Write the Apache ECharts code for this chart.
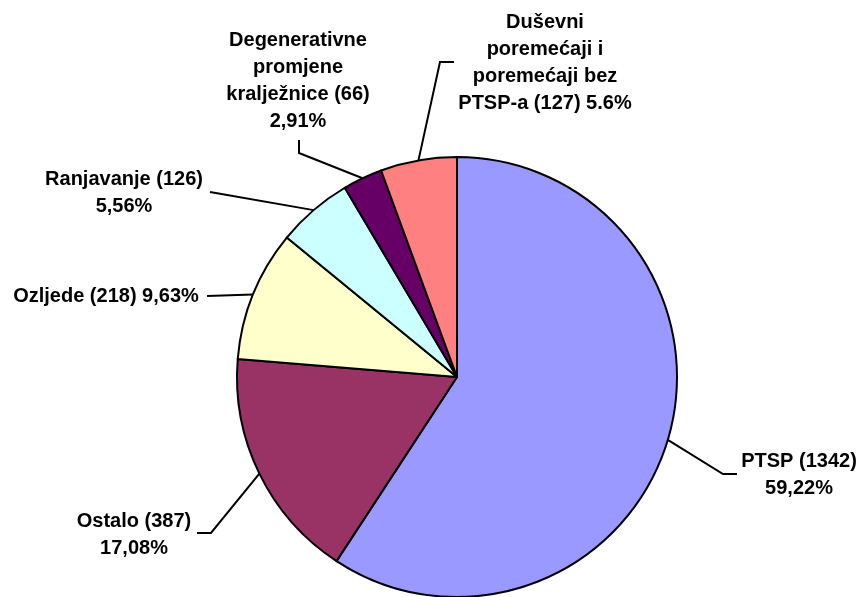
<!DOCTYPE html>
<html>
<head>
<meta charset="utf-8">
<script src="https://cdn.jsdelivr.net/npm/echarts@6/dist/echarts.min.js"></script>
<style>
  html, body { margin: 0; padding: 0; background: #fff; }
  #main { width: 862px; height: 597px; }
</style>
</head>
<body>
<div id="main"></div>
<script>
// podaci
var categories = ['PTSP', 'Ostalo', 'Ozljede', 'Ranjavanje', 'Degenerativne promjene kralježnice', 'Duševni poremećaji i poremećaji bez PTSP-a'];
var values = [1342, 387, 218, 126, 66, 127];
var labelTexts = [
    'PTSP (1342)\n59,22%',
    'Ostalo (387)\n17,08%',
    'Ozljede (218) 9,63%',
    'Ranjavanje (126)\n5,56%',
    'Degenerativne\npromjene\nkralježnice (66)\n2,91%',
    'Duševni\nporemećaji i\nporemećaji bez\nPTSP-a (127) 5.6%'
];
var colors = ['#9999FF', '#993366', '#FFFFCC', '#CCFFFF', '#660066', '#FF8080'];

// ručni raspored oznaka (centar teksta, lom linije, kraj linije)
var layout = [
    { x: 799, y: 475, bend: [723, 474], end: [737, 474] },
    { x: 134, y: 535, bend: [211, 533], end: [197, 533] },
    { x: 106, y: 296, bend: [207, 296], end: [207, 296] },
    { x: 124, y: 193, bend: [210, 192], end: [210, 192] },
    { x: 298, y: 81, bend: [299, 153], end: [299, 140] },
    { x: 545, y: 63, bend: [440, 62], end: [454, 62] }
];

var myChart = echarts.init(document.getElementById('main'));

myChart.setOption({
    animation: false,
    series: [
        {
            type: 'pie',
            center: [457, 377],
            radius: 220,
            startAngle: 90,
            clockwise: true,
            avoidLabelOverlap: false,
            data: values.map(function (v, i) {
                return { value: v, name: categories[i], itemStyle: { color: colors[i] } };
            }),
            itemStyle: { borderColor: '#000', borderWidth: 2 },
            label: {
                show: true,
                position: 'outside',
                formatter: function (p) { return labelTexts[p.dataIndex]; },
                fontFamily: 'Liberation Sans, Arial, sans-serif',
                fontWeight: 'bold',
                fontSize: 20,
                lineHeight: 27,
                color: '#000',
                align: 'center'
            },
            labelLine: {
                show: true,
                length: 20,
                length2: 20,
                lineStyle: { color: '#000', width: 2 }
            },
            labelLayout: function (params) {
                var l = layout[params.dataIndex];
                var start = params.labelLinePoints ? params.labelLinePoints[0] : l.bend;
                return {
                    x: l.x,
                    y: l.y,
                    align: 'center',
                    verticalAlign: 'middle',
                    labelLinePoints: [start, l.bend, l.end]
                };
            },
            emphasis: { disabled: true }
        }
    ]
});
</script>
</body>
</html>
